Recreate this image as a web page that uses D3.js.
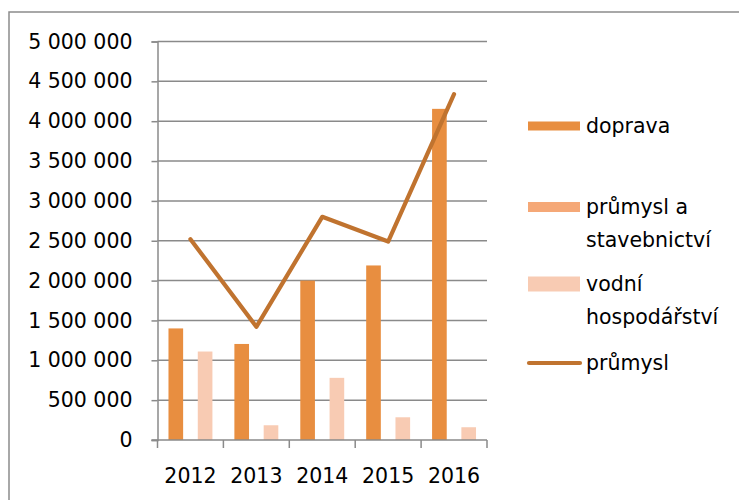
<!DOCTYPE html>
<html>
<head>
<meta charset="utf-8">
<script src="https://cdn.jsdelivr.net/npm/d3@7"></script>
<style>
  body { margin: 0; background: #fff; }
  svg { display: block; font-family: 'DejaVu Sans', sans-serif; }
  text { fill: #000; }
</style>
</head>
<body>
<svg width="739" height="500"></svg>
<script>
const years = ['2012', '2013', '2014', '2015', '2016'];
const barSeries = ['doprava', 'průmysl a stavebnictví', 'vodní hospodářství'];
const doprava = [1400000, 1205000, 2000000, 2190000, 4155000];
const prumyslStav = [0, 0, 0, 0, 0];
const vodni = [1110000, 185000, 780000, 285000, 160000];
const prumysl = [2520000, 1420000, 2800000, 2490000, 4340000];
const yTicks = d3.range(0, 5000001, 500000);

const barValues = [doprava, prumyslStav, vodni];
const barColors = ['#e88e40', '#f5a877', '#f8cbb3'];
const lineColor = '#c0732f';
const gridColor = '#8a8a8a';

const svg = d3.select('svg');
const fmt = d3.formatLocale({ decimal: ',', thousands: ' ', grouping: [3], currency: ['', ''] }).format(',');

const plot = { left: 157.5, right: 487, top: 41.5, bottom: 440 };

// outer frame (only top and left edges show in the crop)
svg.append('path')
  .attr('d', 'M9,500V12H739')
  .attr('fill', 'none')
  .attr('stroke', '#8c8c8c')
  .attr('stroke-width', 1.5);

const x = d3.scaleBand().domain(years).range([plot.left, plot.right]);
const xInner = d3.scaleBand().domain(barSeries).range([0, x.bandwidth()]).paddingOuter(0.75);
const y = d3.scaleLinear().domain([0, 5000000]).range([plot.bottom, plot.top]);

// gridlines
svg.append('g')
  .selectAll('line')
  .data(yTicks.filter(d => d > 0))
  .enter()
  .append('line')
  .attr('x1', plot.left).attr('x2', plot.right)
  .attr('y1', d => y(d)).attr('y2', d => y(d))
  .attr('stroke', gridColor)
  .attr('stroke-width', 1.5);

// y axis
const yAxis = svg.append('g')
  .attr('transform', `translate(${plot.left},0)`)
  .call(d3.axisLeft(y).tickValues(yTicks).tickFormat(fmt).tickSize(6).tickPadding(19));
yAxis.selectAll('path, line').attr('stroke', gridColor).attr('stroke-width', 1.5);
yAxis.selectAll('text').style('font-size', '20.5px').style('font-family', 'DejaVu Sans').attr('fill', '#000');

// bars
barValues.forEach((vals, si) => {
  svg.append('g')
    .selectAll('rect')
    .data(vals)
    .enter()
    .append('rect')
    .attr('x', (d, i) => x(years[i]) + xInner(barSeries[si]))
    .attr('width', xInner.bandwidth())
    .attr('y', d => y(d))
    .attr('height', d => y(0) - y(d))
    .attr('fill', barColors[si]);
});

// line
const line = d3.line()
  .x((d, i) => x(years[i]) + x.bandwidth() / 2)
  .y(d => y(d));
svg.append('path')
  .datum(prumysl)
  .attr('d', line)
  .attr('fill', 'none')
  .attr('stroke', lineColor)
  .attr('stroke-width', 4.2)
  .attr('stroke-linecap', 'round')
  .attr('stroke-linejoin', 'round');

// x axis
const xAxis = svg.append('g');
xAxis.append('line')
  .attr('x1', plot.left - 6).attr('x2', plot.right)
  .attr('y1', plot.bottom).attr('y2', plot.bottom)
  .attr('stroke', gridColor).attr('stroke-width', 1.5);
xAxis.selectAll('line.tick')
  .data(years.map(d => x(d)).concat([plot.right]))
  .enter()
  .append('line')
  .attr('class', 'tick')
  .attr('x1', d => d).attr('x2', d => d)
  .attr('y1', plot.bottom).attr('y2', plot.bottom + 8)
  .attr('stroke', gridColor).attr('stroke-width', 1.5);
xAxis.selectAll('text')
  .data(years)
  .enter()
  .append('text')
  .attr('x', d => x(d) + x.bandwidth() / 2)
  .attr('y', 483)
  .attr('text-anchor', 'middle')
  .style('font-size', '20.5px')
  .text(d => d);

// legend
const legendItems = [
  { lines: ['doprava'], y: 126, type: 'rect', color: barColors[0], h: 9 },
  { lines: ['průmysl a', 'stavebnictví'], y: 207, type: 'rect', color: barColors[1], h: 10 },
  { lines: ['vodní', 'hospodářství'], y: 284, type: 'rect', color: barColors[2], h: 15 },
  { lines: ['průmysl'], y: 363, type: 'line', color: lineColor }
];
const legend = svg.append('g');
legendItems.forEach((it) => {
  if (it.type === 'rect') {
    legend.append('rect')
      .attr('x', 528).attr('width', 52)
      .attr('y', it.y - it.h / 2).attr('height', it.h)
      .attr('fill', it.color);
  } else {
    legend.append('line')
      .attr('x1', 529).attr('x2', 580)
      .attr('y1', it.y).attr('y2', it.y)
      .attr('stroke', it.color).attr('stroke-width', 4.2)
      .attr('stroke-linecap', 'round');
  }
  it.lines.forEach((t, k) => {
    legend.append('text')
      .attr('x', 586)
      .attr('y', it.y + k * 33)
      .attr('dy', '0.35em')
      .style('font-size', '20.5px')
      .text(t);
  });
});
</script>
</body>
</html>
